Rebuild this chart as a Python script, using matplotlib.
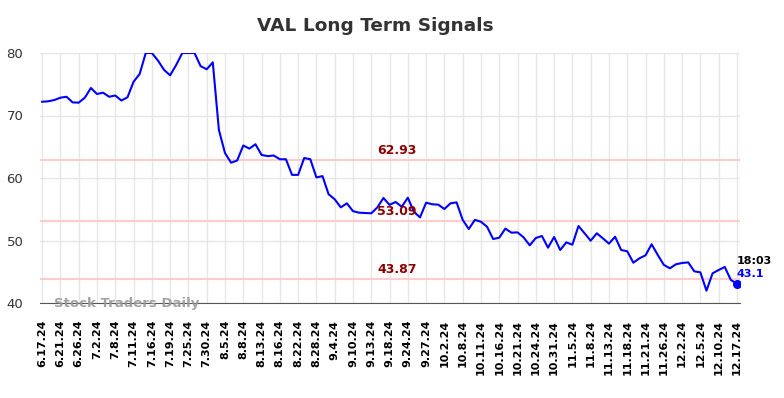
import numpy as np
import matplotlib.pyplot as plt

tick_labels = [
    "6.17.24", "6.21.24", "6.26.24", "7.2.24", "7.8.24", "7.11.24", "7.16.24",
    "7.19.24", "7.25.24", "7.30.24", "8.5.24", "8.8.24", "8.13.24", "8.16.24",
    "8.22.24", "8.28.24", "9.4.24", "9.10.24", "9.13.24", "9.18.24", "9.24.24",
    "9.27.24", "10.2.24", "10.8.24", "10.11.24", "10.16.24", "10.21.24",
    "10.24.24", "10.31.24", "11.5.24", "11.8.24", "11.13.24", "11.18.24",
    "11.21.24", "11.26.24", "12.2.24", "12.5.24", "12.10.24", "12.17.24",
]

values = [
    72.2, 72.27, 72.48, 72.85, 73.0, 72.1, 72.05, 72.85, 74.4, 73.44,
    73.65, 73.0, 73.2, 72.4, 72.9, 75.4, 76.64, 80.0, 80.0, 78.8,
    77.3, 76.43, 78.1, 80.0, 80.0, 80.0, 77.9, 77.4, 78.5, 67.7,
    64.0, 62.45, 62.8, 65.2, 64.7, 65.4, 63.7, 63.5, 63.6, 63.0,
    63.0, 60.5, 60.5, 63.2, 63.0, 60.1, 60.3, 57.4, 56.6, 55.3,
    55.95, 54.7, 54.45, 54.4, 54.35, 55.3, 56.8, 55.7, 56.16, 55.4,
    56.85, 54.6, 53.7, 56.05, 55.8, 55.73, 55.04, 55.95, 56.1, 53.3,
    51.84, 53.3, 53.0, 52.2, 50.24, 50.45, 51.9, 51.25, 51.3, 50.5,
    49.23, 50.4, 50.72, 48.85, 50.56, 48.48, 49.7, 49.33, 52.32, 51.15,
    49.97, 51.15, 50.35, 49.5, 50.6, 48.48, 48.27, 46.45, 47.15, 47.63,
    49.4, 47.7, 46.1, 45.55, 46.2, 46.4, 46.5, 45.07, 44.9, 41.97,
    44.75, 45.28, 45.76, 43.68, 43.1,
]

levels = [62.93, 53.09, 43.87]
last_time = "18:03"

x = np.arange(len(values))
tick_pos = x[::3]

fig = plt.figure(figsize=(7.84, 3.98), dpi=100)
ax = fig.add_axes([40 / 784, 1 - 303 / 398, 700 / 784, 250 / 398])

# support / resistance levels
for lv in levels:
    ax.axhline(lv, color="#ffcccc", linewidth=1.5, zorder=1)
    ax.text(58.2, lv + 0.5, f"{lv:.2f}", color="#8b0000", fontsize=9,
            fontweight="bold", ha="center", va="bottom", zorder=4)

ax.plot(x, values, color="#0000ff", linewidth=1.5, zorder=3)
ax.plot(x[-1], values[-1], "o", color="#0000ff", markersize=5.5, zorder=5)
ax.text(x[-1], values[-1] + 3.7, last_time, fontsize=8, fontweight="bold",
        color="black", ha="left", va="center")
ax.text(x[-1], values[-1] + 1.6, f"{values[-1]}", fontsize=8, fontweight="bold",
        color="#0000ff", ha="left", va="center")

ax.set_xlim(-0.35, 114.5)
ax.set_ylim(40, 80)
ax.set_yticks([40, 50, 60, 70, 80])
ax.set_xticks(tick_pos)
ax.set_xticklabels(tick_labels, rotation=90, fontsize=8, fontweight="bold")
ax.tick_params(axis="both", length=0)
ax.tick_params(axis="y", labelsize=9.5, labelcolor="#333333", pad=12)
ax.tick_params(axis="x", pad=12)
ax.grid(True, color="#e6e6e6", linewidth=1, zorder=0)
ax.set_axisbelow(True)
for side in ["left", "right", "top"]:
    ax.spines[side].set_visible(False)
ax.spines["bottom"].set_color("#555555")

ax.text(2, 40, "Stock Traders Daily", fontsize=9.5, fontweight="bold",
        color="#999999", alpha=0.9, ha="left", va="center")

fig.text(375 / 784, 1 - 26 / 398, "VAL Long Term Signals", fontsize=13.3,
         fontweight="bold", color="#333333", ha="center", va="center")

plt.savefig("out.png", dpi=100)
